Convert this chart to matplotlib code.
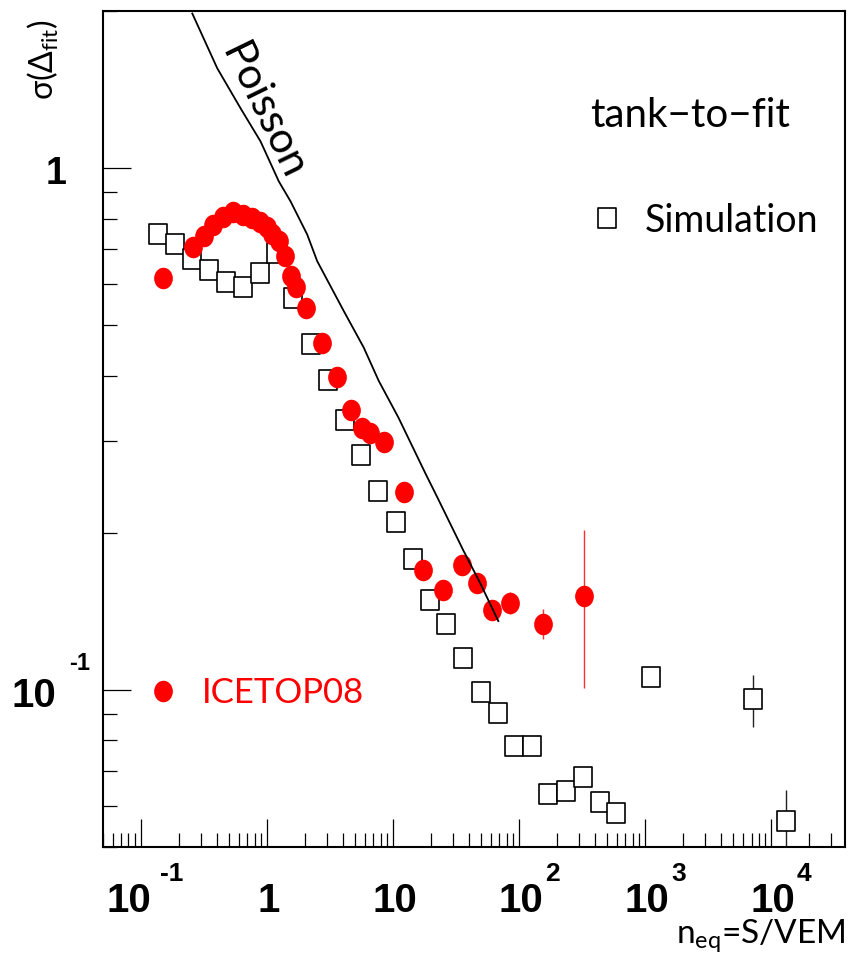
import matplotlib
matplotlib.use('Agg')
import matplotlib.pyplot as plt
from matplotlib.path import Path
from matplotlib.transforms import Affine2D, offset_copy
from matplotlib.ticker import LogLocator, NullFormatter

# ---------------- data ----------------
sim_x = [0.137, 0.187, 0.254, 0.348, 0.478, 0.651, 0.882, 1.19, 1.63, 2.25, 3.05,
         4.14, 5.61, 7.62, 10.6, 14.5, 19.6, 26.6, 36.1, 50.4, 68.3, 92.0, 127.3,
         171, 237.5, 322, 437.7, 593, 1124, 7228, 13220]
sim_y = [0.749, 0.714, 0.671, 0.638, 0.605, 0.592, 0.629, 0.688, 0.564, 0.460, 0.392,
         0.3285, 0.2815, 0.241, 0.2097, 0.178, 0.1488, 0.134, 0.1151, 0.0991, 0.0903,
         0.078, 0.078, 0.0632, 0.0641, 0.068, 0.0609, 0.0582, 0.1059, 0.0960, 0.0562]
sim_err = [0, 0, 0, 0, 0, 0, 0, 0, 0, 0, 0, 0, 0, 0, 0, 0, 0, 0, 0, 0, 0, 0, 0,
           0, 0, 0, 0, 0, 0, 0.011, 0.008]

ice_x = [0.151, 0.2616, 0.3186, 0.3768, 0.4505, 0.5358, 0.649, 0.758, 0.877, 0.996,
         1.11, 1.24, 1.391, 1.544, 1.707, 2.056, 2.743, 3.62, 4.70, 5.71, 6.645, 8.58,
         12.2, 17.4, 25.0, 35.4, 46.5, 61.2, 85.5, 154, 325.6]
ice_y = [0.615, 0.705, 0.741, 0.779, 0.807, 0.823, 0.814, 0.803, 0.789, 0.770,
         0.747, 0.724, 0.678, 0.621, 0.5905, 0.540, 0.4618, 0.398, 0.344, 0.317, 0.311,
         0.298, 0.240, 0.1696, 0.1552, 0.1733, 0.160, 0.1422, 0.147, 0.134, 0.1514]
ice_err = [0, 0, 0, 0, 0, 0, 0, 0, 0, 0, 0, 0, 0, 0, 0, 0, 0, 0, 0, 0, 0, 0,
           0, 0, 0, 0, 0, 0.004, 0.007, 0.0087, 0.0507]

poisson_x = [0.2568, 0.4053, 0.620, 0.8932, 1.247, 1.544, 2.094, 2.512, 4.083, 5.882,
             7.733, 11.08, 18.13, 22.57, 36.27, 49.44, 68.7]
poisson_y = [1.978, 1.553, 1.302, 1.125, 0.943, 0.8637, 0.746, 0.6634, 0.5322, 0.4529,
             0.3911, 0.3326, 0.260, 0.2338, 0.185, 0.160, 0.1355]

xtick_vals = [0.1, 1, 10, 100, 1000, 10000]
xtick_base = ['10', '1', '10', '10', '10', '10']
xtick_exp = ['-1', '', '', '2', '3', '4']
ytick_vals = [0.1, 1]
ytick_base = ['10', '1']
ytick_exp = ['-1', '']

# ---------------- figure ----------------
W, H = 848, 959
fig = plt.figure(figsize=(W / 100, H / 100), dpi=100)
L, B, R, T = 102.7, 847, 845, 11
ax = fig.add_axes([L / W, (H - B) / H, (R - L) / W, (B - T) / H])
ax.set_xscale('log')
ax.set_yscale('log')
ax.set_xlim(0.05, 3.86e4)
ax.set_ylim(0.05, 2.0)

ax.xaxis.set_major_locator(LogLocator(base=10, numticks=20))
ax.xaxis.set_minor_locator(LogLocator(base=10, subs=range(2, 10), numticks=50))
ax.yaxis.set_major_locator(LogLocator(base=10, numticks=20))
ax.yaxis.set_minor_locator(LogLocator(base=10, subs=range(2, 10), numticks=50))
ax.xaxis.set_minor_formatter(NullFormatter())
ax.yaxis.set_minor_formatter(NullFormatter())
ax.tick_params(which='both', direction='in', top=False, right=False,
               labelbottom=False, labelleft=False, color='black', width=0.9)
ax.tick_params(which='major', length=20)
ax.tick_params(which='minor', length=10)
for s in ax.spines.values():
    s.set_linewidth(1.5)

sq_marker = Path.unit_rectangle().transformed(Affine2D().translate(-0.5, -0.5).scale(0.9, 1.0))
ci_marker = Path.unit_circle().transformed(Affine2D().scale(0.87, 1.0))

ax.errorbar(sim_x, sim_y, yerr=sim_err, fmt='none', ecolor='#222222', elinewidth=1.0, zorder=2)
ax.plot(sim_x, sim_y, ls='none', marker=sq_marker, ms=14, mfc='white', mec='black',
        mew=1.2, zorder=3)
ax.errorbar(ice_x, ice_y, yerr=ice_err, fmt='none', ecolor='#ff3030', elinewidth=1.0, zorder=4)
ax.plot(ice_x, ice_y, ls='none', marker=ci_marker, ms=15.5, mfc='#ff0000', mec='none', zorder=5)
ax.plot(poisson_x, poisson_y, color='black', lw=1.3, zorder=6)

# ---------------- texts ----------------
thin = dict(family=['Lato', 'DejaVu Sans'], weight='normal')
bold = dict(family=['Liberation Sans Narrow', 'Liberation Sans', 'DejaVu Sans'], weight='bold')


def off(trans, dx, dy):
    return offset_copy(trans, fig=fig, x=dx, y=dy, units='dots')


xt = ax.get_xaxis_transform()
for v, b, e in zip(xtick_vals, xtick_base, xtick_exp):
    bdx = -11.5 if e.startswith('-') else 2
    ax.text(v, 0, b, transform=off(xt, bdx, -65), ha='center', va='baseline',
            fontsize=29, clip_on=False, **bold)
    if e:
        sdx = 19 if e.startswith('-') else 26
        ax.text(v, 0, e, transform=off(xt, sdx, -34), ha='left', va='baseline',
                fontsize=19, clip_on=False, **bold)

yt = ax.get_yaxis_transform()
for v, b, e in zip(ytick_vals, ytick_base, ytick_exp):
    if e:
        ax.text(0, v, b, transform=off(yt, -68.7, -17), ha='center', va='baseline',
                fontsize=29, clip_on=False, **bold)
        ax.text(0, v, e, transform=off(yt, -22.7, 20), ha='center', va='baseline',
                fontsize=17, clip_on=False, **bold)
    else:
        ax.text(0, v, b, transform=off(yt, -46.7, -16.3), ha='center', va='baseline',
                fontsize=27, clip_on=False, **bold)

ax.text(0.6565, 0.8612, 'tank\u2212to\u2212fit', transform=ax.transAxes, ha='left',
        va='baseline', fontsize=29, color='black', **thin)
ax.plot([0.6794], [0.7518], transform=ax.transAxes, ls='none', marker=sq_marker, ms=14,
        mfc='white', mec='black', mew=1.2, clip_on=False)
ax.text(0.7306, 0.7356, 'Simulation', transform=ax.transAxes, ha='left', va='baseline',
        fontsize=27, color='black', **thin)
ax.plot([0.0812], [0.1866], transform=ax.transAxes, ls='none', marker=ci_marker, ms=15.5,
        mfc='#ff0000', mec='none', clip_on=False)
ax.text(0.1338, 0.1722, 'ICETOP08', transform=ax.transAxes, ha='left', va='baseline',
        fontsize=25, color='#ff0000', **thin)
ax.text(0.2160, 0.8800, 'Poisson', transform=ax.transAxes, rotation=-64,
        rotation_mode='anchor', ha='center', va='center', fontsize=31, color='black', **thin)

fig.text(43.5 / W, 1 - 60 / H, '$\\mathregular{\u03c3(\u0394_{fit})}$',
         rotation=90, ha='center', va='center', fontsize=23, **thin)
fig.text(845 / W, 1 - 943 / H, '$\\mathregular{n_{eq}}$=S/VEM', ha='right', va='baseline',
         fontsize=24, **thin)

fig.savefig('out.png', dpi=100)
